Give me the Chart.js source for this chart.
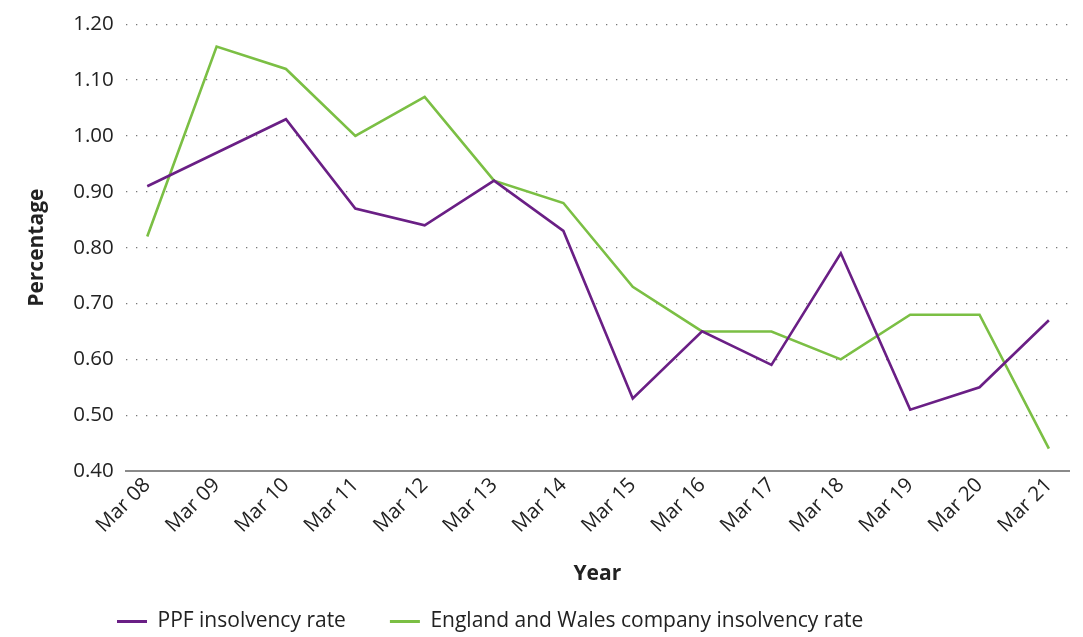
<!DOCTYPE html>
<html>
<head>
<meta charset="utf-8">
<script src="https://cdn.jsdelivr.net/npm/chart.js@4"></script>
<style>
  html, body { margin: 0; padding: 0; background: #ffffff; }
  #wrap { width: 1083px; height: 637px; position: relative; }
</style>
</head>
<body>
<div id="wrap"><canvas id="chart"></canvas></div>
<script>
// Year-end snapshots (March of each year)
const years = ["Mar 08", "Mar 09", "Mar 10", "Mar 11", "Mar 12", "Mar 13", "Mar 14",
               "Mar 15", "Mar 16", "Mar 17", "Mar 18", "Mar 19", "Mar 20", "Mar 21"];

// Insolvency rates, in percent
const ppfRate = [0.91, 0.97, 1.03, 0.87, 0.84, 0.92, 0.83, 0.53, 0.65, 0.59, 0.79, 0.51, 0.55, 0.67];
const englandWalesRate = [0.82, 1.16, 1.12, 1.00, 1.07, 0.92, 0.88, 0.73, 0.65, 0.65, 0.60, 0.68, 0.68, 0.44];

// Y axis ticks
const yTicks = [0.40, 0.50, 0.60, 0.70, 0.80, 0.90, 1.00, 1.10, 1.20];

const PURPLE = "#6a1f85";
const GREEN = "#7bbf44";
const FONT = "'Open Sans', 'Noto Sans', sans-serif";

const toPoints = arr => arr.map((v, i) => ({ x: i, y: v }));

// Legend row: wide gaps between items but a compact band at the bottom
const LEGEND_GAP = 44;
const legendPlacement = {
  id: "legendPlacement",
  beforeLayout(chart) {
    const lg = chart.legend;
    if (lg && !lg.__compactFit) {
      const fit = lg.fit;
      lg.fit = function () {
        fit.call(this);
        this.height = 50;
      };
      lg.__compactFit = true;
    }
  },
  afterLayout(chart) {
    const lg = chart.legend;
    if (lg) {
      lg.left = 117 - LEGEND_GAP;
      lg.top = lg.bottom - 70;
    }
  }
};

new Chart(document.getElementById("chart"), {
  type: "line",
  data: {
    datasets: [
      {
        label: "PPF insolvency rate",
        data: toPoints(ppfRate),
        borderColor: PURPLE,
        backgroundColor: PURPLE,
        borderWidth: 2.6,
        pointRadius: 0,
        tension: 0
      },
      {
        label: "England and Wales company insolvency rate",
        data: toPoints(englandWalesRate),
        borderColor: GREEN,
        backgroundColor: GREEN,
        borderWidth: 2.6,
        pointRadius: 0,
        tension: 0
      }
    ]
  },
  plugins: [legendPlacement],
  options: {
    responsive: true,
    maintainAspectRatio: false,
    animation: false,
    layout: { padding: { top: 13, right: 14, left: 10, bottom: 0 } },
    plugins: {
      tooltip: { enabled: false },
      legend: {
        position: "bottom",
        align: "start",
        labels: {
          font: { family: FONT, size: 21 },
          color: "#222",
          boxWidth: 30,
          boxHeight: 3,
          padding: LEGEND_GAP,
          generateLabels: chart =>
            Chart.defaults.plugins.legend.labels.generateLabels(chart)
              .map(item => Object.assign(item, { lineWidth: 0 }))
        }
      }
    },
    scales: {
      x: {
        type: "linear",
        min: -0.31,
        max: 13.29,
        afterBuildTicks: axis => { axis.ticks = years.map((_, i) => ({ value: i })); },
        ticks: {
          autoSkip: false,
          maxRotation: 45,
          minRotation: 45,
          font: { family: FONT, size: 20.5 },
          color: "#222",
          padding: 2,
          callback: v => years[v]
        },
        grid: { display: false, drawTicks: false },
        border: { display: true, color: "#8a8a8a", width: 2 },
        title: {
          display: true,
          text: "Year",
          font: { family: FONT, size: 21, weight: "bold" },
          color: "#222",
          padding: { top: 22, bottom: 0 }
        }
      },
      y: {
        min: 0.4,
        max: 1.2,
        afterBuildTicks: axis => { axis.ticks = yTicks.map(v => ({ value: v })); },
        ticks: {
          font: { family: FONT, size: 20.5 },
          color: "#222",
          padding: 12,
          callback: v => Number(v).toFixed(2)
        },
        grid: {
          color: "#777",
          lineWidth: 1.3,
          drawTicks: false
        },
        border: { display: false, dash: [1.3, 8.7] },
        title: {
          display: true,
          text: "Percentage",
          font: { family: FONT, size: 21, weight: "bold" },
          color: "#222",
          padding: { top: 14, bottom: 12 }
        }
      }
    }
  }
});
</script>
</body>
</html>
